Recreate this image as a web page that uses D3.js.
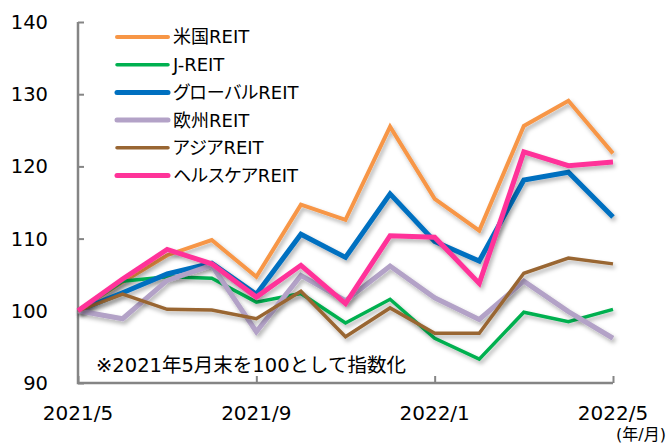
<!DOCTYPE html>
<html>
<head>
    <meta charset="utf-8">
    <style>
        html, body {
            margin: 0;
            padding: 0;
            background: #fff;
        }

        svg {
            display: block;
            font-family: "DejaVu Sans", "Noto Sans CJK JP", sans-serif;
            font-feature-settings: "palt";
        }

        .note {
            font-feature-settings: normal;
        }
    </style>
</head>
<body>
<div id="chart"></div>

<script src="https://cdn.jsdelivr.net/npm/d3@7"></script>
<script>
    "use strict";

    const WIDTH = 670;
    const HEIGHT = 444;

    // months 2021/5 .. 2022/5
    const months = ["2021/5", "2021/6", "2021/7", "2021/8", "2021/9", "2021/10", "2021/11",
        "2021/12", "2022/1", "2022/2", "2022/3", "2022/4", "2022/5"];
    const tickMonths = ["2021/5", "2021/9", "2022/1", "2022/5"];
    const yTicks = [90, 100, 110, 120, 130, 140];

    const seriesNames = ["米国REIT", "J-REIT", "グローバルREIT", "欧州REIT", "アジアREIT", "ヘルスケアREIT"];
    const seriesColors = ["#F79646", "#00B050", "#0070C0", "#B3A2C7", "#996633", "#FF3399"];
    const seriesWidths = [4, 3.5, 5, 5, 3.5, 5];

    const usReit = [100, 104.0, 107.7, 109.8, 104.7, 114.7, 112.6, 125.5, 115.5, 111.1, 125.6, 129.1, 121.8];
    const jReit = [100, 104.1, 104.7, 104.5, 101.2, 102.4, 98.3, 101.6, 96.2, 93.3, 99.8, 98.5, 100.2];
    const globalReit = [100, 102.5, 105.1, 106.6, 102.3, 110.6, 107.4, 116.2, 109.6, 106.9, 118.1, 119.2, 113.0];
    const europeReit = [100, 98.9, 104.2, 106.3, 97.1, 104.9, 101.4, 106.2, 101.8, 98.8, 104.1, 99.9, 96.2];
    const asiaReit = [100, 102.3, 100.2, 100.1, 98.9, 102.7, 96.4, 100.4, 96.9, 96.9, 105.2, 107.3, 106.5];
    const healthReit = [100, 104.4, 108.5, 106.5, 101.9, 106.3, 101.0, 110.4, 110.2, 103.8, 122.0, 120.1, 120.6];

    const seriesValues = [usReit, jReit, globalReit, europeReit, asiaReit, healthReit];

    const noteText = "※2021年5月末を100として指数化";
    const unitText = "(年/月)";

    const svg = d3.select("#chart").append("svg")
        .attr("width", WIDTH)
        .attr("height", HEIGHT);

    const x = d3.scalePoint()
        .domain(months)
        .range([78, 613]);

    const y = d3.scaleLinear()
        .domain([90, 140])
        .range([383, 22]);

    const axisColor = "#858585";

    // shadow under the lines
    const filter = svg.append("defs").append("filter")
        .attr("id", "shadow")
        .attr("x", "-10%").attr("y", "-10%")
        .attr("width", "120%").attr("height", "130%");
    filter.append("feDropShadow")
        .attr("dx", 2)
        .attr("dy", 3)
        .attr("stdDeviation", 2)
        .attr("flood-color", "#000")
        .attr("flood-opacity", 0.3);

    // y axis
    const yAxis = svg.append("g")
        .attr("transform", "translate(78,0)")
        .call(d3.axisRight(y).tickValues(yTicks).tickSize(6).tickFormat(""));
    yAxis.select(".domain").remove();
    yAxis.selectAll(".tick line").attr("stroke", axisColor).attr("stroke-width", 2);

    svg.append("g")
        .selectAll("text")
        .data(yTicks)
        .enter()
        .append("text")
        .attr("x", 48)
        .attr("y", d => y(d))
        .attr("dy", "0.36em")
        .attr("text-anchor", "end")
        .style("font-size", "19.5px")
        .style("fill", "#000")
        .text(d => d);

    // x axis
    const xAxis = svg.append("g")
        .attr("transform", "translate(0,383)")
        .call(d3.axisTop(x).tickValues(tickMonths).tickSize(7).tickFormat(""));
    xAxis.select(".domain").remove();
    xAxis.selectAll(".tick line").attr("stroke", axisColor).attr("stroke-width", 2);

    svg.append("path")
        .attr("d", "M78," + y(140) + "V383H613")
        .attr("fill", "none")
        .attr("stroke", axisColor)
        .attr("stroke-width", 2.5);

    svg.append("g")
        .selectAll("text")
        .data(tickMonths)
        .enter()
        .append("text")
        .attr("x", d => x(d))
        .attr("y", 420)
        .attr("text-anchor", "middle")
        .style("font-size", "20px")
        .style("fill", "#000")
        .text(d => d);

    svg.append("text")
        .attr("x", 666)
        .attr("y", 440)
        .attr("text-anchor", "end")
        .style("font-size", "16px")
        .text(unitText);

    svg.append("text")
        .attr("class", "note")
        .attr("x", 96)
        .attr("y", 372)
        .style("font-size", "19.5px")
        .text(noteText);

    // lines
    const line = d3.line()
        .x((d, i) => x(months[i]))
        .y(d => y(d));

    svg.append("g")
        .selectAll("path")
        .data(seriesValues)
        .enter()
        .append("path")
        .attr("d", d => line(d))
        .attr("fill", "none")
        .attr("stroke", (d, i) => seriesColors[i])
        .attr("stroke-width", (d, i) => seriesWidths[i])
        .attr("stroke-linejoin", "miter")
        .attr("filter", "url(#shadow)");

    // legend
    const legend = svg.append("g")
        .selectAll("g")
        .data(seriesNames)
        .enter()
        .append("g")
        .attr("transform", (d, i) => "translate(0," + (37 + i * 27.7) + ")");

    legend.append("line")
        .attr("x1", 117)
        .attr("x2", 168)
        .attr("stroke", (d, i) => seriesColors[i])
        .attr("stroke-width", (d, i) => seriesWidths[i])
        .attr("stroke-linecap", "round");

    legend.append("text")
        .attr("x", 173)
        .attr("dy", "0.36em")
        .style("font-size", "18px")
        .text(d => d);
</script>
</body>
</html>
